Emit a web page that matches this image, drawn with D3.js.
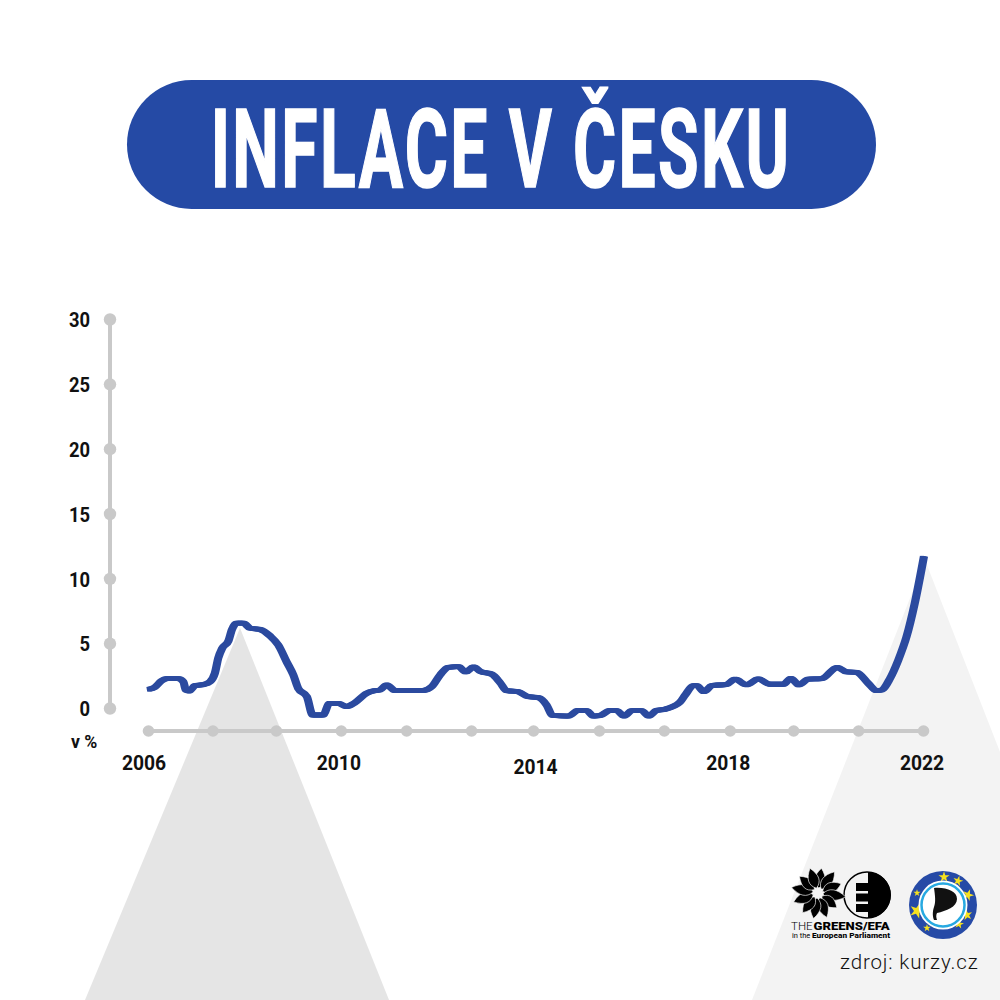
<!DOCTYPE html>
<html><head><meta charset="utf-8">
<script src="https://cdn.jsdelivr.net/npm/d3@7"></script>
<style>html,body{margin:0;padding:0;background:#fff}svg{display:block}text{font-family:Roboto,sans-serif}</style>
</head><body><svg id="c" width="1000" height="1000"></svg>
<script>
const years = [2006.01,2006.14,2006.28,2006.39,2006.63,2006.73,2006.78,2006.85,2006.97,2007.14,2007.28,2007.38,2007.45,2007.53,2007.66,2007.73,2007.83,2007.97,2008.11,2008.31,2008.52,2008.69,2008.86,2009.00,2009.10,2009.28,2009.40,2009.62,2009.74,2009.93,2010.10,2010.27,2010.51,2010.68,2010.79,2010.93,2011.10,2011.68,2011.86,2012.03,2012.20,2012.41,2012.56,2012.72,2012.87,2013.10,2013.27,2013.40,2013.64,2013.85,2014.06,2014.23,2014.35,2014.68,2014.88,2015.06,2015.19,2015.33,2015.54,2015.68,2015.83,2015.99,2016.19,2016.34,2016.50,2016.67,2016.98,2017.09,2017.26,2017.33,2017.48,2017.64,2017.95,2018.12,2018.36,2018.60,2018.84,2019.12,2019.27,2019.44,2019.63,2019.91,2020.23,2020.42,2020.63,2020.87,2021.04,2021.15,2021.32,2021.49,2021.66,2021.83,2022.02];
const inflation = [1.44,1.6,2.1,2.26,2.26,2.03,1.39,1.31,1.72,1.8,2.03,2.68,3.84,4.6,5.17,6.02,6.54,6.54,6.15,6.07,5.56,4.86,3.58,2.55,1.52,0.87,-0.54,-0.54,0.36,0.36,0.1,0.41,1.13,1.34,1.39,1.78,1.34,1.34,1.65,2.55,3.14,3.19,2.78,3.17,2.8,2.6,1.95,1.34,1.26,0.87,0.8,0.23,-0.57,-0.62,-0.18,-0.2,-0.62,-0.59,-0.18,-0.2,-0.62,-0.2,-0.2,-0.62,-0.18,-0.1,0.44,1.0,1.72,1.72,1.26,1.72,1.83,2.22,1.78,2.24,1.83,1.83,2.29,1.78,2.22,2.26,3.14,2.78,2.75,1.9,1.34,1.39,2.29,3.7,5.5,8.08,11.7];
const yTicks = [0,5,10,15,20,25,30];
const xDots = [2006,2007.33,2008.64,2009.98,2011.33,2012.67,2013.95,2015.31,2016.65,2018.01,2019.32,2020.66,2022];
const xLabels = [[2006,"2006"],[2009.94,"2010"],[2014,"2014"],[2017.98,"2018"],[2021.98,"2022"]];
const titleText = "INFLACE V ČESKU", unitText = "v %", sourceText = "zdroj: kurzy.cz";

const svg = d3.select("#c");
const x = d3.scaleLinear().domain([2006,2022]).range([148,923]);
const y = d3.scaleLinear().domain([0,30]).range([708,319]);
const GREY="#c9c9c9", BLUE="#2b4a9f";

// background triangles
svg.append("path").attr("d","M240,628L389,1000L85,1000Z").attr("fill","#e5e5e5");
svg.append("path").attr("d","M925,560L1000,752L1000,1000L752,1000Z").attr("fill","#f3f3f3");

// title pill
svg.append("rect").attr("x",127).attr("y",80).attr("width",749).attr("height",129).attr("rx",64.5).attr("fill","#254aa5");
svg.append("text").attr("id","title").text(titleText)
  .attr("transform","translate(501,186.5) scale(0.6,1)")
  .attr("text-anchor","middle").attr("letter-spacing",4)
  .attr("fill","#fff").attr("stroke","#fff").attr("stroke-width",1.6)
  .attr("font-size",110).attr("font-weight",700);

// y axis
const gy = svg.append("g").attr("transform","translate(110,0)")
  .call(d3.axisLeft(y).tickValues(yTicks).tickSize(0).tickPadding(0));
gy.select(".domain").attr("stroke",GREY).attr("stroke-width",4).attr("d",`M0,${y(30)}V${y(0)}`);
gy.selectAll(".tick").append("circle").attr("r",6.2).attr("fill",GREY);
gy.selectAll(".tick text").attr("text-anchor","end").attr("dy","0.36em")
  .attr("transform","translate(-20,0.5) scale(0.92,1)").attr("x",0)
  .attr("fill","#111").attr("font-size",20).attr("font-weight",700).style("font-family","Roboto");

// x axis
const gx = svg.append("g").attr("transform","translate(0,731)")
  .call(d3.axisBottom(x).tickValues(xDots).tickSize(0).tickFormat(""));
gx.select(".domain").attr("stroke",GREY).attr("stroke-width",4).attr("d",`M${x(2006)},0H${x(2022)}`);
gx.selectAll(".tick").append("circle").attr("r",5.8).attr("fill",GREY);

svg.append("g").selectAll("text").data(xLabels).join("text")
  .text(d=>d[1])
  .attr("transform",d=>`translate(${d[1]==="2006"?144:x(d[0])},${d[1]==="2014"?774:770}) scale(0.94,1)`)
  .attr("text-anchor","middle").attr("fill","#111").attr("font-size",20.5).attr("font-weight",700);

svg.append("text").text(unitText).attr("transform","translate(71,748) scale(0.98,1)")
  .attr("fill","#111").attr("font-size",18).attr("font-weight",700);

// line (source image was stretched sideways, so steep parts look thicker)
const line = d3.line().x((d,i)=>x(years[i])).y(d=>y(d)).curve(d3.curveMonotoneX);
[-1.7,-0.6,0.6,1.7].forEach(dx=>{
  svg.append("path").datum(inflation).attr("d",line).attr("transform",`translate(${dx},0)`)
    .attr("fill","none").attr("stroke",BLUE).attr("stroke-width",4.8).attr("stroke-linejoin","round");
});

// source
svg.append("text").text(sourceText).attr("x",840).attr("y",969).attr("fill","#111")
  .attr("font-size",20.5).attr("font-weight",300).attr("letter-spacing",0.85);

// Greens/EFA logo
svg.append("circle").attr("cx",867).attr("cy",895).attr("r",23).attr("fill","none").attr("stroke","#000").attr("stroke-width",1.5);
svg.append("path").attr("d","M868,872A23,23,0,0,1,868,918L868,912L856,912L856,904L868,904L868,901.5L856,901.5L856,893.5L868,893.5L868,891L856,891L856,883L868,883Z").attr("fill","#000");
const logo = svg.append("g").attr("transform","translate(818,893)");
const petalAngles = [8,38,68,98,128,160,190,218,250,282,312,342];
const petalLengths = [25,27,25,28,24,26,26,25,26,27,25,26];
petalAngles.forEach((a,i)=>{
  const L = petalLengths[i];
  logo.append("path").attr("d",`M0,-5C-7,-10,-7,${-L*0.65},0,${-L}C7,${-L*0.65},7,-10,0,-5Z`)
    .attr("transform",`rotate(${a})`).attr("fill","#000").attr("stroke","#fff").attr("stroke-width",0.6);
});
svg.append("text").text("THE").attr("transform","translate(791,930) scale(1.05,1)").attr("font-size",11).attr("font-weight",300).attr("fill","#000");
svg.append("text").text("GREENS/EFA").attr("transform","translate(813.5,930) scale(1.19,1)").attr("font-size",11).attr("font-weight",900).attr("fill","#000");
svg.append("text").text("in the").attr("transform","translate(792,938) scale(1.1,1)").attr("font-size",6.8).attr("fill","#000");
svg.append("text").text("European Parliament").attr("transform","translate(812,938) scale(1.22,1)").attr("font-size",6.8).attr("font-weight",800).attr("fill","#000");

// Pirate logo
const pl = svg.append("g").attr("transform","translate(943,905)");
pl.append("circle").attr("r",34).attr("fill","#264aa6");
const star = d3.symbol().type(d3.symbolStar);
[[1,-28,38,0],[15,-24,32,15],[25,-10,42,20],[24,10,36,-10],[16,19,28,10],[-16,23,18,0],[-26,6,70,20],[-26,-12,16,0]].forEach(s=>{
  pl.append("path").attr("d",star.size(s[2])()).attr("fill","#f5e11f")
    .attr("transform",`translate(${s[0]},${s[1]}) rotate(${s[3]})`);
});
pl.append("circle").attr("r",24.5).attr("fill","#fff");
pl.append("circle").attr("r",21.5).attr("fill","#fff").attr("stroke","#27a9e1").attr("stroke-width",2.5);
pl.append("path").attr("d","M-9,-17C3,-18,14,-14,14,-6C14,2,3,6,-6,8C-7,10,-7,12,-6,15L-9,15C-11,10,-10,5,-9,2C-7,-3,-8,-10,-9,-17Z").attr("fill","#111");
</script></body></html>
